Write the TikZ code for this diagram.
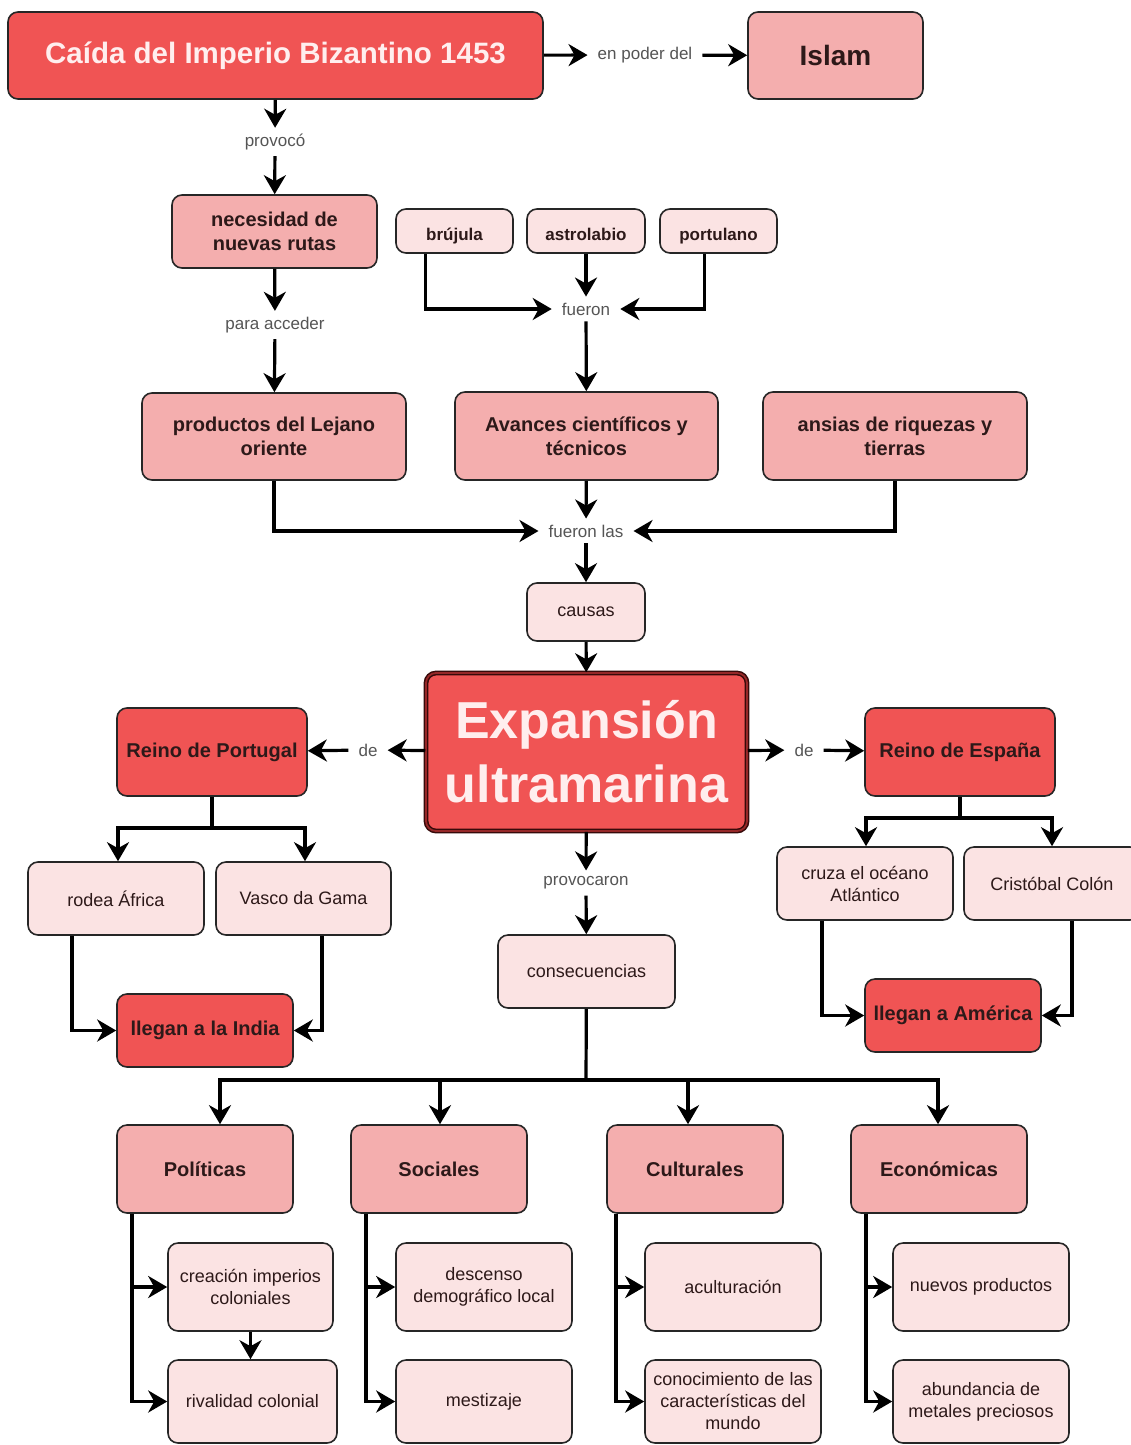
\documentclass[tikz,border=0pt]{standalone}
\usepackage{fontspec}
\setmainfont{Liberation Sans}
\usepackage{tikz}
\usetikzlibrary{arrows.meta,positioning,calc}
\definecolor{redfill}{RGB}{240,84,84}
\definecolor{midfill}{RGB}{244,174,174}
\definecolor{lightfill}{RGB}{251,227,227}
\definecolor{inktext}{RGB}{45,25,25}
\definecolor{linkgray}{RGB}{85,85,85}
\definecolor{paletext}{RGB}{255,238,238}
\definecolor{darkrim}{RGB}{55,10,10}
\definecolor{midrim}{RGB}{150,40,40}
\tikzstyle{edge}    =[->, >={Stealth[length=19pt,width=22pt,inset=6pt]},
                      line width=3.2pt, line join=miter]
\tikzstyle{stem}    =[line width=3.2pt]
\tikzstyle{box}     =[rectangle, rounded corners=10pt, draw=black!85,
                      line width=1.6pt, align=center, inner sep=2pt,
                      text=inktext]
\tikzstyle{redbox}  =[box, fill=redfill, font=\fontsize{20}{24}\selectfont\bfseries]
\tikzstyle{midbox}  =[box, fill=midfill, font=\fontsize{20}{24}\selectfont\bfseries]
\tikzstyle{lightbox}=[box, fill=lightfill, font=\fontsize{18}{22}\selectfont]
\tikzstyle{toolbox} =[box, fill=lightfill, font=\fontsize{17}{20}\selectfont\bfseries,
                      minimum width=117pt, minimum height=44pt,
                      text height=22pt, text depth=4pt]
\tikzstyle{linktext}=[inner xsep=10pt, inner ysep=6pt, text=linkgray,
                      font=\fontsize{17}{20}\selectfont]

\begin{document}
\begin{tikzpicture}[x=1pt, y=-1pt]
    \useasboundingbox[fill=white] (0,0) rectangle (1131,1445);
    % top
    \node (caida) [redbox, minimum width=535pt, minimum height=87pt, text=paletext,
        font=\fontsize{29.5}{34}\selectfont\bfseries] at (275.5,55.5) {Caída del Imperio Bizantino 1453};
    \node (enpoder) [linktext] at (645,55) {en poder del};
    \node (islam) [midbox, minimum width=175pt, minimum height=87pt,
        font=\fontsize{28}{32}\selectfont\bfseries] at (835.5,55.5) {Islam};
    \node (provoco) [linktext] at (275,142) {provocó};
    \node (necesidad) [midbox, minimum width=205pt, minimum height=73pt] at (274.5,231.5) {necesidad de\\nuevas rutas};
    \node (acceder) [linktext] at (275,325) {para acceder};
    \node (productos) [midbox, minimum width=264pt, minimum height=87pt] at (274,436.5) {productos del Lejano\\oriente};
    \node (brujula) [toolbox] at (454.5,231) {brújula};
    \node (astrolabio) [toolbox, minimum width=118pt] at (586,231) {astrolabio};
    \node (portulano) [toolbox] at (718.5,231) {portulano};
    \node (fueron) [linktext] at (586,309) {fueron};
    \node (avances) [midbox, minimum width=263pt, minimum height=88pt] at (586.5,436) {Avances científicos y\\técnicos};
    \node (ansias) [midbox, minimum width=264pt, minimum height=88pt] at (895,436) {ansias de riquezas y\\tierras};
    \node (fueronlas) [linktext] at (586,531) {fueron las};
    \node (causas) [lightbox, minimum width=118pt, minimum height=58pt] at (586,612) {causas};
    % centre
    \node (expansion) [box, fill=redfill, minimum width=321pt, minimum height=158pt,
        draw=darkrim, line width=1.5pt, double=midrim, double distance=1.8pt, text=paletext,
        font=\fontsize{52}{64}\selectfont\bfseries] at (586.5,752) {Expansión\\ultramarina};
    \node (deL) [linktext] at (368,750) {de};
    \node (deR) [linktext] at (804,750) {de};
    \node (portugal) [redbox, minimum width=190pt, minimum height=88pt] at (212,752) {Reino de Portugal};
    \node (espana) [redbox, minimum width=190pt, minimum height=88pt] at (960,752) {Reino de España};
    \node (africa) [lightbox, minimum width=176pt, minimum height=73pt] at (116,898.5) {rodea África};
    \node (vasco) [lightbox, minimum width=175pt, minimum height=73pt] at (303.5,898.5) {Vasco da Gama};
    \node (india) [redbox, minimum width=176pt, minimum height=73pt] at (205,1030.5) {llegan a la India};
    \node (cruza) [lightbox, minimum width=176pt, minimum height=73pt] at (865,883.5) {cruza el océano\\Atlántico};
    \node (colon) [lightbox, minimum width=176pt, minimum height=73pt] at (1052,883.5) {Cristóbal Colón};
    \node (america) [redbox, minimum width=176pt, minimum height=73pt] at (953,1015.5) {llegan a América};
    \node (provocaron) [linktext] at (586,883) {provocaron};
    \node (consecuencias) [lightbox, minimum width=177pt, minimum height=73pt] at (586.5,971.5) {consecuencias};
    % bottom
    \node (politicas) [midbox, minimum width=176pt, minimum height=88pt] at (205,1169) {Políticas};
    \node (sociales) [midbox, minimum width=176pt, minimum height=88pt] at (439,1169) {Sociales};
    \node (culturales) [midbox, minimum width=176pt, minimum height=88pt] at (695,1169) {Culturales};
    \node (economicas) [midbox, minimum width=176pt, minimum height=88pt] at (939,1169) {Económicas};
    \node (creacion) [lightbox, minimum width=165pt, minimum height=88pt] at (250.5,1287) {creación imperios\\coloniales};
    \node (rivalidad) [lightbox, minimum width=169pt, minimum height=83pt] at (252.5,1401.5) {rivalidad colonial};
    \node (descenso) [lightbox, minimum width=176pt, minimum height=88pt] at (484,1287) {descenso\\demográfico local};
    \node (mestizaje) [lightbox, minimum width=176pt, minimum height=83pt] at (484,1401.5) {mestizaje};
    \node (aculturacion) [lightbox, minimum width=176pt, minimum height=88pt] at (733,1287) {aculturación};
    \node (conocimiento) [lightbox, minimum width=176pt, minimum height=83pt, inner sep=0pt] at (733,1401.5) {conocimiento de las\\características del\\mundo};
    \node (nuevos) [lightbox, minimum width=176pt, minimum height=88pt] at (981,1287) {nuevos productos};
    \node (abundancia) [lightbox, minimum width=176pt, minimum height=83pt] at (981,1401.5) {abundancia de\\metales preciosos};
    \coordinate (pfork) at (212,828);
    \coordinate (efork) at (960,818);
    \coordinate (cfork) at (586,1080);

    \draw[edge] (caida) to (enpoder);
    \draw[edge] (enpoder) to (islam);
    \draw[edge] (caida) to (provoco);
    \draw[edge] (provoco) to (necesidad);
    \draw[edge] (necesidad) to (acceder);
    \draw[edge] (acceder) to (productos);
    \draw[edge] ([xshift=-29pt]brujula.south) |- (fueron);
    \draw[edge] (astrolabio) to (fueron);
    \draw[edge] ([xshift=-14pt]portulano.south) |- (fueron);
    \draw[edge] (fueron) to (avances);
    \draw[edge] (productos) |- (fueronlas);
    \draw[edge] (avances) to (fueronlas);
    \draw[edge] (ansias) |- (fueronlas);
    \draw[edge] (fueronlas) to (causas);
    \draw[edge] (causas) to (expansion);
    \draw[edge] (expansion) to (deL);
    \draw[edge] (deL) to (portugal);
    \draw[edge] (expansion) to (deR);
    \draw[edge] (deR) to (espana);
    \draw[stem] (portugal) to (pfork);
    \draw[edge] (pfork) -| ([xshift=2pt]africa.north);
    \draw[edge] (pfork) -| ([xshift=1.5pt]vasco.north);
    \draw[edge] ([xshift=-44pt]africa.south) |- (india);
    \draw[edge] ([xshift=18.5pt]vasco.south) |- (india);
    \draw[stem] (espana) to (efork);
    \draw[edge] (efork) -| ([xshift=1pt]cruza.north);
    \draw[edge] (efork) -| (colon.north);
    \draw[edge] ([xshift=-43pt]cruza.south) |- (america);
    \draw[edge] ([xshift=20pt]colon.south) |- (america);
    \draw[edge] (expansion) to (provocaron);
    \draw[edge] (provocaron) to (consecuencias);
    \draw[stem] (consecuencias) to (cfork);
    \draw[edge] (cfork) -| ([xshift=15pt]politicas.north);
    \draw[edge] (cfork) -| ([xshift=1pt]sociales.north);
    \draw[edge] (cfork) -| ([xshift=-7pt]culturales.north);
    \draw[edge] (cfork) -| ([xshift=-1pt]economicas.north);
    \draw[edge] ([xshift=-73pt]politicas.south) |- (creacion);
    \draw[edge] ([xshift=-73pt]politicas.south) |- (rivalidad);
    \draw[edge] (creacion.south) to (creacion.south |- rivalidad.north);
    \draw[edge] ([xshift=-73pt]sociales.south) |- (descenso);
    \draw[edge] ([xshift=-73pt]sociales.south) |- (mestizaje);
    \draw[edge] ([xshift=-79pt]culturales.south) |- (aculturacion);
    \draw[edge] ([xshift=-79pt]culturales.south) |- (conocimiento);
    \draw[edge] ([xshift=-73pt]economicas.south) |- (nuevos);
    \draw[edge] ([xshift=-73pt]economicas.south) |- (abundancia);
\end{tikzpicture}
\end{document}
